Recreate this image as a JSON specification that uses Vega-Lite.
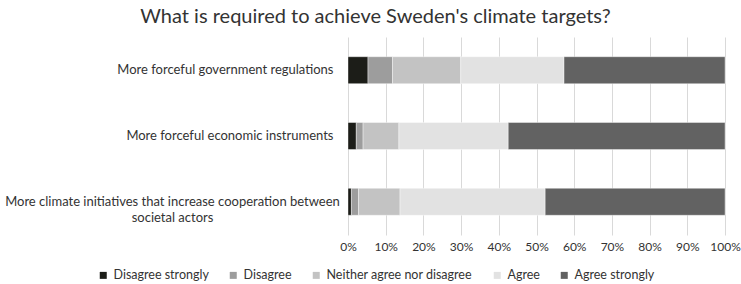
{
  "$schema": "https://vega.github.io/schema/vega-lite/v6.json",
  "autosize": "none",
  "width": 377,
  "height": 198,
  "padding": {"left": 348, "top": 37, "right": 16, "bottom": 49},
  "background": "white",
  "title": {
    "text": "What is required to achieve Sweden's climate targets?",
    "font": "Lato",
    "fontSize": 20,
    "fontWeight": "normal",
    "color": "#333333",
    "anchor": "middle",
    "dx": -161,
    "offset": 10
  },
  "data": {
    "values": [
      {"q": "More forceful government regulations", "r": "Disagree strongly", "k": 1, "v": 5.3},
      {"q": "More forceful government regulations", "r": "Disagree", "k": 2, "v": 6.5},
      {"q": "More forceful government regulations", "r": "Neither agree nor disagree", "k": 3, "v": 18.1},
      {"q": "More forceful government regulations", "r": "Agree", "k": 4, "v": 27.4},
      {"q": "More forceful government regulations", "r": "Agree strongly", "k": 5, "v": 42.7},
      {"q": "More forceful economic instruments", "r": "Disagree strongly", "k": 1, "v": 2.2},
      {"q": "More forceful economic instruments", "r": "Disagree", "k": 2, "v": 1.8},
      {"q": "More forceful economic instruments", "r": "Neither agree nor disagree", "k": 3, "v": 9.5},
      {"q": "More forceful economic instruments", "r": "Agree", "k": 4, "v": 29.0},
      {"q": "More forceful economic instruments", "r": "Agree strongly", "k": 5, "v": 57.5},
      {"q": "More climate initiatives that increase cooperation between societal actors", "r": "Disagree strongly", "k": 1, "v": 0.9},
      {"q": "More climate initiatives that increase cooperation between societal actors", "r": "Disagree", "k": 2, "v": 1.9},
      {"q": "More climate initiatives that increase cooperation between societal actors", "r": "Neither agree nor disagree", "k": 3, "v": 11.0},
      {"q": "More climate initiatives that increase cooperation between societal actors", "r": "Agree", "k": 4, "v": 38.5},
      {"q": "More climate initiatives that increase cooperation between societal actors", "r": "Agree strongly", "k": 5, "v": 47.7}
    ]
  },
  "mark": {"type": "bar", "stroke": "white", "strokeWidth": 0.4},
  "encoding": {
    "y": {
      "field": "q",
      "type": "nominal",
      "sort": ["More forceful government regulations", "More forceful economic instruments", "More climate initiatives that increase cooperation between societal actors"],
      "scale": {"paddingInner": 0.59, "paddingOuter": 0.3},
      "axis": {
        "title": null,
        "ticks": false,
        "domain": false,
        "grid": false,
        "labelLimit": 0,
        "labelFont": "Lato",
        "labelFontSize": 13,
        "labelColor": "#333333",
        "labelLineHeight": 16,
        "labelExpr": "indexof(datum.value, 'climate initiatives') >= 0 ? ['More climate initiatives that increase cooperation between', 'societal actors'] : datum.value",
        "labelAlign": {"condition": {"test": "indexof(datum.value, 'climate initiatives') >= 0", "value": "center"}, "value": "right"},
        "labelPadding": {"condition": {"test": "indexof(datum.value, 'climate initiatives') >= 0", "value": 176}, "value": 15}
      }
    },
    "x": {
      "field": "v",
      "type": "quantitative",
      "stack": "normalize",
      "scale": {"domain": [0, 1]},
      "axis": {
        "title": null,
        "values": [0, 0.1, 0.2, 0.3, 0.4, 0.5, 0.6, 0.7, 0.8, 0.9, 1],
        "format": ".0%",
        "domain": false,
        "ticks": false,
        "grid": true,
        "gridColor": "#d9d9d9",
        "gridWidth": 1,
        "labelFont": "Lato",
        "labelFontSize": 12,
        "labelColor": "#333333",
        "labelPadding": 6,
        "labelOverlap": false,
        "labelFlush": false
      }
    },
    "color": {
      "field": "r",
      "type": "nominal",
      "scale": {
        "domain": ["Disagree strongly", "Disagree", "Neither agree nor disagree", "Agree", "Agree strongly"],
        "range": ["#1c1d18", "#9d9d9d", "#c3c3c3", "#e2e2e2", "#626262"]
      },
      "legend": {
        "title": null,
        "orient": "none",
        "direction": "horizontal",
        "legendX": -251,
        "legendY": 232,
        "symbolType": "square",
        "symbolSize": 49,
        "symbolStrokeWidth": 0,
        "labelFont": "Lato",
        "labelFontSize": 12.5,
        "labelColor": "#333333",
        "labelOffset": 4,
        "columnPadding": 18,
        "labelLimit": 0
      }
    },
    "order": {"field": "k", "type": "quantitative"}
  },
  "config": {"view": {"stroke": null}}
}
